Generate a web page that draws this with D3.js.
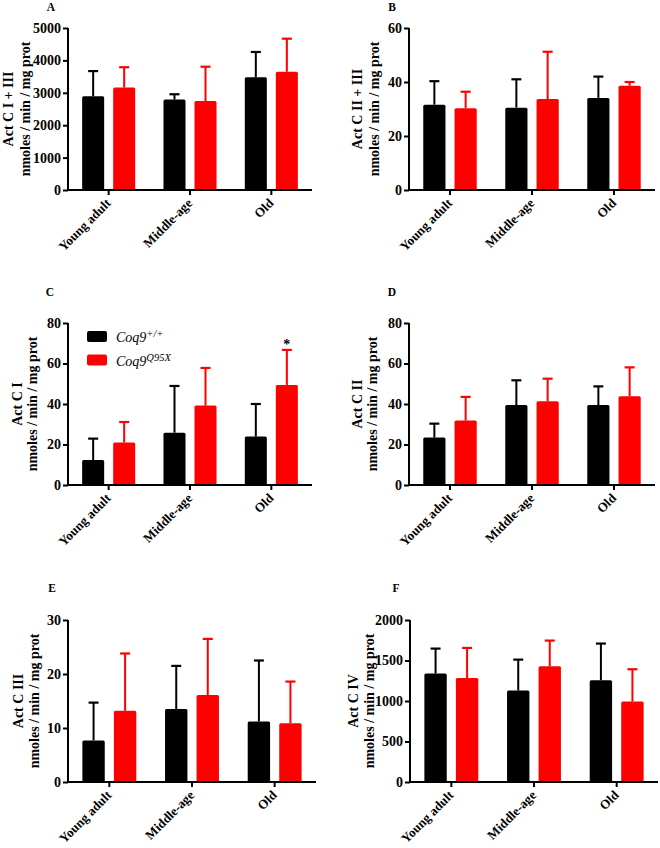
<!DOCTYPE html>
<html><head><meta charset="utf-8">
<script src="https://cdn.jsdelivr.net/npm/d3@7"></script>
<style>
html,body{margin:0;padding:0;background:#fff;}
svg{display:block;}
</style></head>
<body>
<svg id="chart" width="660" height="848"></svg>
<script>
// ---------- data ----------
const categories = ["Young adult", "Middle-age", "Old"];
const seriesNames = ["Coq9+/+", "Coq9Q95X"];
const seriesColors = ["#000000", "#ff0000"];

const panelLabels = ["A", "B", "C", "D", "E", "F"];
const titleLine1 = ["Act C I + III", "Act C II + III", "Act C I", "Act C II", "Act C III", "Act C IV"];
const titleLine2 = "nmoles / min / mg prot";

const yMax = [5000, 60, 80, 80, 30, 2000];
const yStep = [1000, 20, 20, 20, 10, 500];

// means and SD (upper error) for wild type and mutant
const wtMeanA = [2890, 2790, 3480]; const wtSdA = [780, 165, 780];
const koMeanA = [3160, 2745, 3650]; const koSdA = [630, 1060, 1020];
const wtMeanB = [31.6, 30.5, 34.1]; const wtSdB = [8.7, 10.5, 7.9];
const koMeanB = [30.3, 33.7, 38.6]; const koSdB = [6.1, 17.5, 1.4];
const wtMeanC = [12.3, 25.8, 23.9]; const wtSdC = [10.6, 23.1, 16.1];
const koMeanC = [21.0, 39.2, 49.4]; const koSdC = [10.1, 18.6, 17.3];
const wtMeanD = [23.4, 39.5, 39.5]; const wtSdD = [6.9, 12.2, 9.2];
const koMeanD = [31.8, 41.3, 43.8]; const koSdD = [11.7, 11.2, 14.3];
const wtMeanE = [7.7, 13.5, 11.2]; const wtSdE = [7.0, 8.0, 11.3];
const koMeanE = [13.2, 16.1, 10.9]; const koSdE = [10.6, 10.4, 7.7];
const wtMeanF = [1339, 1129, 1256]; const wtSdF = [308, 382, 453];
const koMeanF = [1284, 1429, 993]; const koSdF = [371, 317, 399];

// significance marks: [panel index, category index, series index, symbol]
const significance = [[2, 2, 1, "*"]];

const means = [[wtMeanA, koMeanA], [wtMeanB, koMeanB], [wtMeanC, koMeanC], [wtMeanD, koMeanD], [wtMeanE, koMeanE], [wtMeanF, koMeanF]];
const sds = [[wtSdA, koSdA], [wtSdB, koSdB], [wtSdC, koSdC], [wtSdD, koSdD], [wtSdE, koSdE], [wtSdF, koSdF]];

// ---------- layout ----------
const FONT = "'Liberation Serif','DejaVu Serif','Times New Roman',Times,serif";
const layout = [
  {x0: 68, x1: 312, y0: 28, y1: 190, lab: [51, 11], t1: 55, t2: 38},
  {x0: 409, x1: 655, y0: 28, y1: 190, lab: [392, 11], t1: 47, t2: 30},
  {x0: 68, x1: 312, y0: 323, y1: 485, lab: [50, 296], t1: 46, t2: 31},
  {x0: 409, x1: 655, y0: 323, y1: 485, lab: [392, 296], t1: 47, t2: 32},
  {x0: 68, x1: 316, y0: 620, y1: 782, lab: [52, 592], t1: 45, t2: 29},
  {x0: 410, x1: 658, y0: 620, y1: 782, lab: [396, 592], t1: 52, t2: 36}
];

const svg = d3.select("#chart");

layout.forEach((L, p) => {
  const g = svg.append("g");
  const x = d3.scaleBand().domain(categories).range([L.x0, L.x1]).padding(0);
  const xi = d3.scaleBand().domain([0, 1]).range([0, x.bandwidth()]).paddingInner(0.29).paddingOuter(0.456);
  const y = d3.scaleLinear().domain([0, yMax[p]]).range([L.y1, L.y0]);

  [0, 1].forEach(s => {
    const cg = g.append("g");
    const rows = categories.map((c, i) => ({c, m: means[p][s][i], sd: sds[p][s][i]}));
    cg.selectAll("line.eb").data(rows).join("line")
      .attr("x1", d => x(d.c) + xi(s) + xi.bandwidth() / 2)
      .attr("x2", d => x(d.c) + xi(s) + xi.bandwidth() / 2)
      .attr("y1", d => y(d.m))
      .attr("y2", d => y(d.m + d.sd))
      .attr("stroke", seriesColors[s]).attr("stroke-width", 2);
    cg.selectAll("line.cap").data(rows).join("line")
      .attr("x1", d => x(d.c) + xi(s) + xi.bandwidth() / 2 - 5)
      .attr("x2", d => x(d.c) + xi(s) + xi.bandwidth() / 2 + 5)
      .attr("y1", d => y(d.m + d.sd))
      .attr("y2", d => y(d.m + d.sd))
      .attr("stroke", seriesColors[s]).attr("stroke-width", 2.2);
    cg.selectAll("rect").data(rows).join("rect")
      .attr("x", d => x(d.c) + xi(s))
      .attr("width", xi.bandwidth())
      .attr("y", d => y(d.m))
      .attr("height", d => y(0) - y(d.m))
      .attr("rx", 1.5)
      .attr("fill", seriesColors[s]);
  });

  const yTicks = d3.range(0, yMax[p] + yStep[p] / 2, yStep[p]);
  const ya = g.append("g").attr("transform", `translate(${L.x0},0)`)
    .call(d3.axisLeft(y).tickValues(yTicks).tickFormat(d3.format("d")).tickSize(5).tickPadding(2));
  ya.attr("font-family", FONT);
  ya.select(".domain").attr("stroke-width", 2).attr("d", `M0,${L.y0}V${L.y1}`);
  ya.selectAll(".tick line").attr("stroke-width", 2);
  ya.selectAll("text").attr("font-size", 14).attr("font-weight", "bold").attr("fill", "#000")
    .attr("font-family", FONT);

  const xa = g.append("g").attr("transform", `translate(0,${L.y1})`)
    .call(d3.axisBottom(x).tickSize(5).tickPadding(2));
  xa.attr("font-family", FONT);
  xa.select(".domain").attr("stroke-width", 2).attr("d", `M${L.x0},0H${L.x1}`);
  xa.selectAll(".tick line").attr("stroke-width", 2);
  xa.selectAll("text").attr("font-size", 13).attr("font-weight", "bold").attr("fill", "#000")
    .attr("font-family", FONT)
    .attr("text-anchor", "end")
    .attr("dy", null).attr("y", 0)
    .attr("transform", "translate(3,14) rotate(-45)");

  const cy = (L.y0 + L.y1) / 2;
  g.append("text").attr("transform", `translate(${L.x0 - L.t1},${cy}) rotate(-90)`)
    .attr("font-family", FONT)
    .attr("text-anchor", "middle").attr("font-size", 14).attr("font-weight", "bold").text(titleLine1[p]);
  g.append("text").attr("transform", `translate(${L.x0 - L.t2},${cy}) rotate(-90)`)
    .attr("font-family", FONT)
    .attr("text-anchor", "middle").attr("font-size", 14).attr("font-weight", "bold").text(titleLine2);

  g.append("text").attr("x", L.lab[0]).attr("y", L.lab[1]).attr("text-anchor", "middle")
    .attr("font-family", FONT)
    .attr("font-size", 11.5).attr("font-weight", "bold").text(panelLabels[p]);

  significance.filter(sg => sg[0] === p).forEach(sg => {
    const [_, ci, si, sym] = sg;
    const cx = x(categories[ci]) + xi(si) + xi.bandwidth() / 2;
    const top = y(means[p][si][ci] + sds[p][si][ci]);
    g.append("text").attr("x", cx).attr("y", top - 1).attr("text-anchor", "middle")
      .attr("font-family", FONT)
      .attr("font-size", 14).attr("font-weight", "bold").text(sym);
  });

  if (p === 2) {
    const lg = g.append("g");
    const supers = ["+/+", "Q95X"];
    seriesNames.forEach((nm, s) => {
      const ly = 331 + s * 23.5;
      lg.append("rect").attr("x", 87).attr("y", ly).attr("width", 20).attr("height", 11)
        .attr("rx", 2).attr("fill", seriesColors[s]);
      const t = lg.append("text").attr("x", 116).attr("y", ly + 11)
        .attr("font-family", FONT)
        .attr("font-size", 14).attr("font-style", "italic").attr("fill", "#000");
      t.append("tspan").text("Coq9");
      t.append("tspan").attr("dy", -5).attr("font-size", 10.5).text(supers[s]);
    });
  }
});
</script>
</body></html>
